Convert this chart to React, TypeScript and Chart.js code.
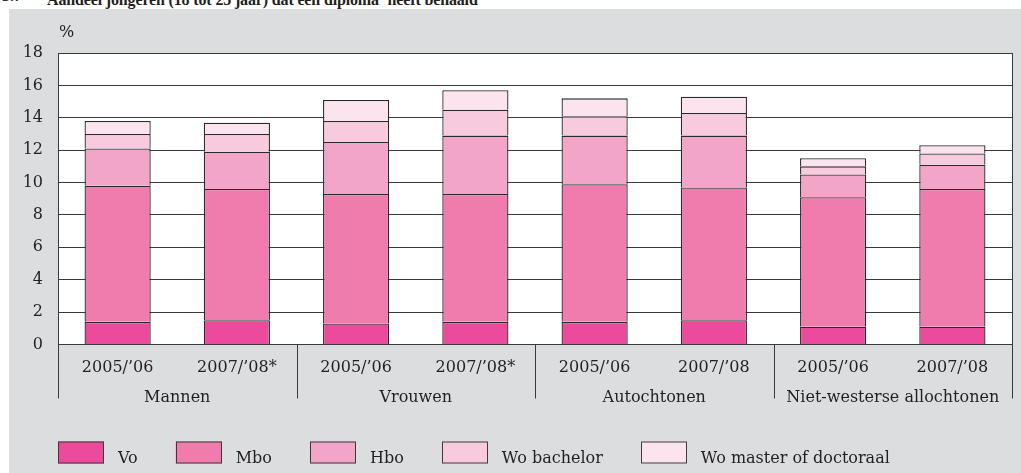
import React, { useEffect, useRef } from "react";
import { Chart, registerables } from "chart.js";

Chart.register(...registerables);

const categories = ["2005/’06", "2007/’08*", "2005/’06", "2007/’08*", "2005/’06", "2007/’08", "2005/’06", "2007/’08"];
const groups = ["Mannen", "Vrouwen", "Autochtonen", "Niet-westerse allochtonen"];
const seriesNames = ["Vo", "Mbo", "Hbo", "Wo bachelor", "Wo master of doctoraal"];

const vo = [1.4, 1.5, 1.3, 1.4, 1.4, 1.5, 1.1, 1.1];
const mbo = [8.4, 8.1, 8.0, 7.9, 8.5, 8.2, 8.0, 8.5];
const hbo = [2.3, 2.3, 3.2, 3.6, 3.0, 3.2, 1.4, 1.5];
const woBachelor = [0.9, 1.1, 1.3, 1.6, 1.2, 1.4, 0.5, 0.7];
const woMaster = [0.8, 0.7, 1.3, 1.2, 1.1, 1.0, 0.5, 0.5];

const yTicks = [0, 2, 4, 6, 8, 10, 12, 14, 16, 18];

const colors = ["#ec4a9a", "#f07cae", "#f3a5c8", "#f8cade", "#fbe4ee"];
const FONT = '"DejaVu Serif", serif';
const TEXT = "#231f20";
const LINE = "#3a3a3a";
const BAR_LINE = "#2a2a2a";

const decorPlugin = {
  id: "decor",
  beforeDraw(chart: any) {
    const { ctx, chartArea } = chart;
    ctx.save();
    ctx.fillStyle = "#ffffff";
    ctx.fillRect(chartArea.left, chartArea.top, chartArea.right - chartArea.left, chartArea.bottom - chartArea.top);
    ctx.restore();
  },
  afterDraw(chart: any) {
    const { ctx, chartArea } = chart;
    const xs = chart.scales.x;
    const sepBottom = chartArea.bottom + 54;
    ctx.save();
    ctx.strokeStyle = LINE;
    ctx.lineWidth = 1;
    const nGroups = groups.length;
    const perGroup = categories.length / nGroups;
    for (let g = 0; g <= nGroups; g++) {
      const idx = g * perGroup;
      let px: number;
      let yTop = chartArea.bottom;
      if (g === 0) { px = chartArea.left; yTop = chartArea.top; }
      else if (g === nGroups) { px = chartArea.right; yTop = chartArea.top; }
      else px = (xs.getPixelForValue(idx - 1) + xs.getPixelForValue(idx)) / 2;
      const x = Math.round(px) + 0.5;
      ctx.beginPath();
      ctx.moveTo(x, yTop);
      ctx.lineTo(x, sepBottom);
      ctx.stroke();
    }
    ctx.fillStyle = TEXT;
    ctx.font = "16px " + FONT;
    ctx.textAlign = "center";
    ctx.textBaseline = "middle";
    groups.forEach((name, g) => {
      const a = xs.getPixelForValue(g * perGroup);
      const b = xs.getPixelForValue(g * perGroup + perGroup - 1);
      ctx.fillText(name, (a + b) / 2, chartArea.bottom + 53);
    });
    ctx.textAlign = "left";
    ctx.fillText("%", chartArea.left + 1, chartArea.top - 20);

    let x = chartArea.left;
    const boxTop = chart.height - 31.5;
    chart.data.datasets.forEach((ds: any) => {
      ctx.fillStyle = ds.backgroundColor;
      ctx.fillRect(x, boxTop, 46, 22);
      ctx.strokeStyle = LINE;
      ctx.strokeRect(Math.round(x) + 0.5, boxTop + 0.5, 45, 21);
      ctx.fillStyle = TEXT;
      ctx.textBaseline = "alphabetic";
      ctx.textAlign = "left";
      const tx = x + 46 + 14;
      ctx.fillText(ds.label, tx, boxTop + 21);
      x = tx + ctx.measureText(ds.label).width + 38;
    });
    ctx.restore();
  },
};

function ChartView() {
  const ref = useRef<HTMLCanvasElement | null>(null);
  useEffect(() => {
    if (!ref.current) return;
    const series = [vo, mbo, hbo, woBachelor, woMaster];
    const chart = new Chart(ref.current, {
      type: "bar",
      data: {
        labels: categories,
        datasets: series.map((d, i) => ({
          label: seriesNames[i],
          data: d,
          backgroundColor: colors[i],
          borderColor: BAR_LINE,
          borderWidth: { top: 1.3, left: 1.3, right: 1.3, bottom: 0 },
          borderSkipped: false,
          barPercentage: 0.555,
          categoryPercentage: 1,
        })),
      },
      options: {
        responsive: false,
        animation: false,
        devicePixelRatio: 1,
        layout: { padding: { top: 44, right: 9, left: 0, bottom: 0 } },
        plugins: {
          legend: { display: false },
          tooltip: { enabled: false },
          title: { display: false },
        },
        scales: {
          x: {
            stacked: true,
            grid: { display: false, drawTicks: false },
            border: { display: false },
            ticks: {
              color: TEXT,
              font: { family: FONT, size: 16 },
              padding: 14,
              maxRotation: 0,
              autoSkip: false,
            },
            afterFit: (s: any) => { s.height = 128.5; },
          },
          y: {
            stacked: true,
            min: 0,
            max: 18,
            grid: { color: LINE, lineWidth: 1, drawTicks: false },
            border: { display: false },
            afterBuildTicks: (s: any) => { s.ticks = yTicks.map((v) => ({ value: v })); },
            ticks: {
              color: TEXT,
              font: { family: FONT, size: 16 },
              padding: 15,
            },
            afterFit: (s: any) => { s.width = 49; },
          },
        },
      },
      plugins: [decorPlugin],
    });
    return () => chart.destroy();
  }, []);
  return <canvas ref={ref} width={1012} height={464} style={{ display: "block" }} />;
}

const titleStyle: React.CSSProperties = {
  position: "absolute",
  top: -12,
  font: "bold 16px 'Liberation Serif', serif",
  lineHeight: "16px",
  color: TEXT,
  whiteSpace: "nowrap",
};

export default function App() {
  return (
    <div style={{ position: "fixed", left: 0, top: 0, width: 1021, height: 473, overflow: "hidden", background: "#ffffff" }}>
      <div style={{ ...titleStyle, left: 2 }}>5.7</div>
      <div style={{ ...titleStyle, left: 47, letterSpacing: "-0.15px" }}>
        Aandeel jongeren (18 tot 25 jaar) dat een diploma<sup style={{ fontSize: 10 }}>1</sup> heeft behaald
      </div>
      <div style={{ position: "absolute", left: 9, top: 9, width: 1012, height: 464, background: "#dcdddf" }}>
        <ChartView />
      </div>
    </div>
  );
}
